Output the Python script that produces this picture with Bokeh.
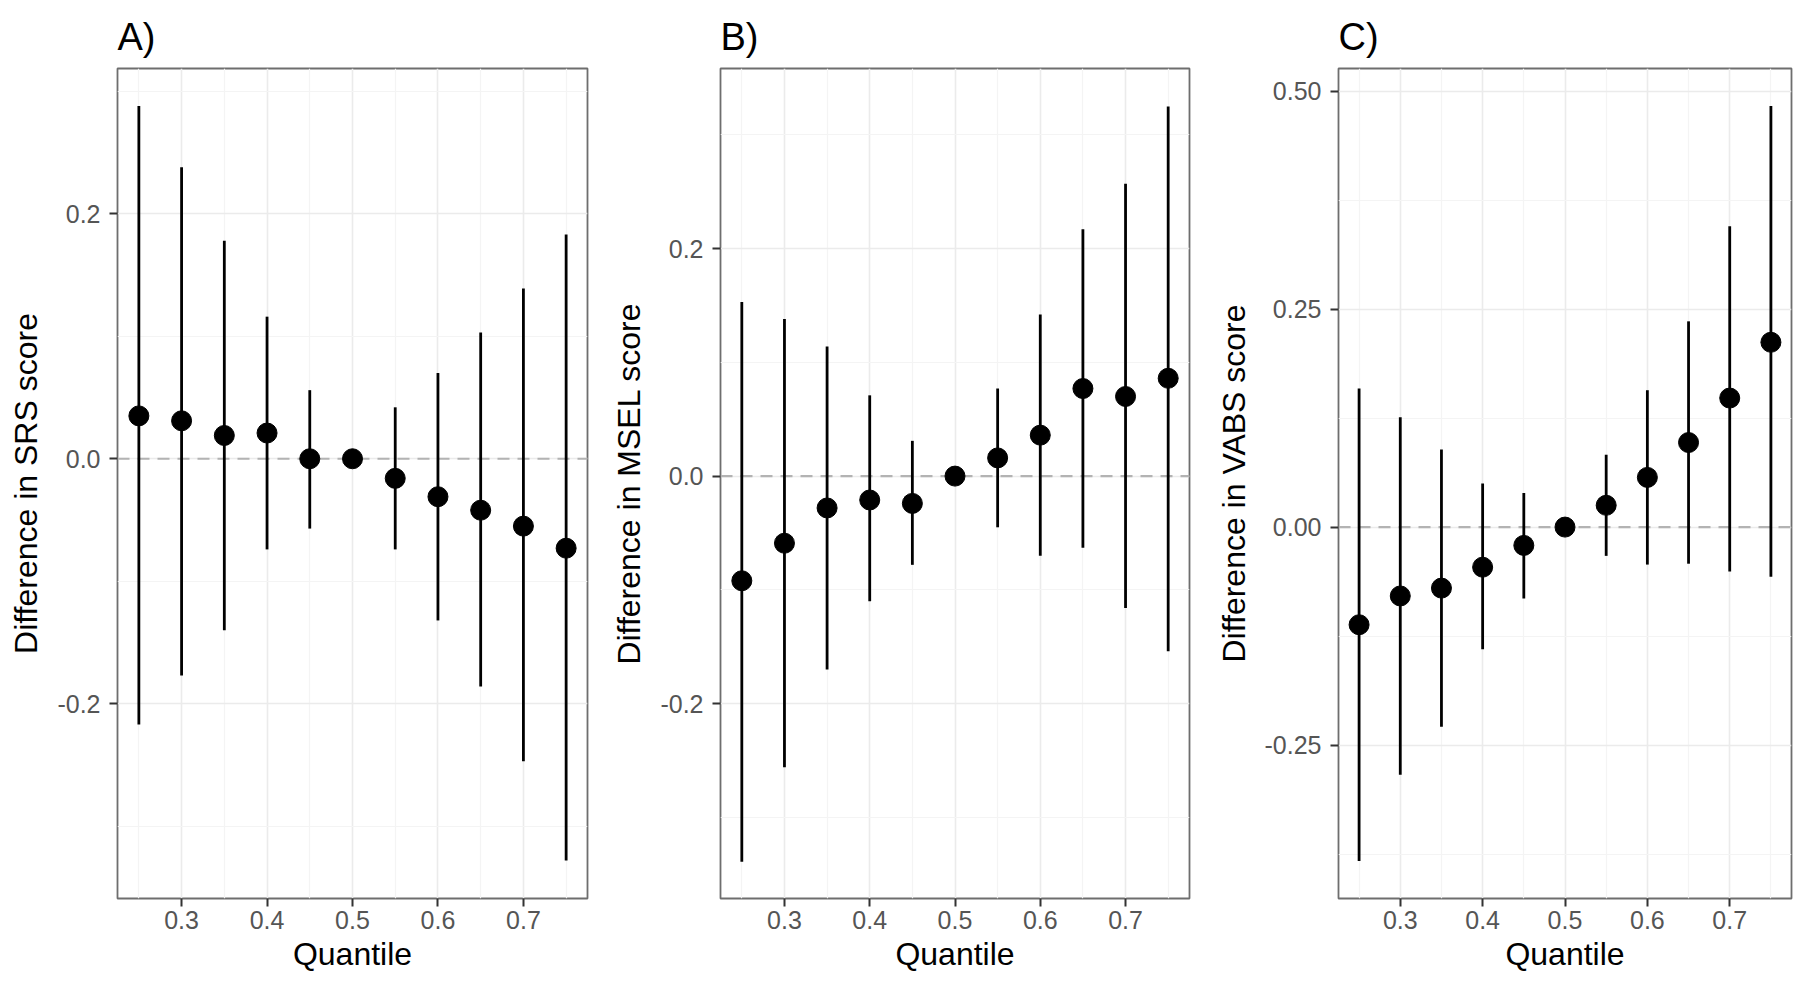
from bokeh.plotting import figure
from bokeh.layouts import row
from bokeh.models import Range1d, FixedTicker, Span
from bokeh.embed import file_html
from bokeh.resources import INLINE

# ---- data ----
quantile = [0.25, 0.30, 0.35, 0.40, 0.45, 0.50, 0.55, 0.60, 0.65, 0.70, 0.75]

srs_est = [0.035, 0.031, 0.019, 0.021, 0.000, 0.0, -0.016, -0.031, -0.042, -0.055, -0.073]
srs_lo = [-0.217, -0.177, -0.140, -0.074, -0.057, 0.0, -0.074, -0.132, -0.186, -0.247, -0.328]
srs_hi = [0.288, 0.238, 0.178, 0.116, 0.056, 0.0, 0.042, 0.070, 0.103, 0.139, 0.183]

msel_est = [-0.092, -0.059, -0.028, -0.021, -0.024, 0.0, 0.016, 0.036, 0.077, 0.070, 0.086]
msel_lo = [-0.339, -0.256, -0.170, -0.110, -0.078, 0.0, -0.045, -0.070, -0.063, -0.116, -0.154]
msel_hi = [0.153, 0.138, 0.114, 0.071, 0.031, 0.0, 0.077, 0.142, 0.217, 0.257, 0.325]

vabs_est = [-0.112, -0.079, -0.070, -0.046, -0.021, 0.0, 0.025, 0.057, 0.097, 0.148, 0.212]
vabs_lo = [-0.383, -0.284, -0.229, -0.140, -0.082, 0.0, -0.033, -0.043, -0.042, -0.051, -0.057]
vabs_hi = [0.159, 0.126, 0.089, 0.050, 0.039, 0.0, 0.083, 0.157, 0.236, 0.345, 0.483]

x_major = [0.3, 0.4, 0.5, 0.6, 0.7]
x_minor = [0.25, 0.35, 0.45, 0.55, 0.65, 0.75]
x_labels = ["0.3", "0.4", "0.5", "0.6", "0.7"]

panels = [
    dict(title="A)", ylabel="Difference in SRS score", est=srs_est, lo=srs_lo, hi=srs_hi,
         yr=(-0.359, 0.3186), ymaj=[-0.2, 0.0, 0.2], ymin=[-0.3, -0.1, 0.1, 0.3],
         ylab=["-0.2", "0.0", "0.2"],
         bl=117, fw=470, br=10),
    dict(title="B)", ylabel="Difference in MSEL score", est=msel_est, lo=msel_lo, hi=msel_hi,
         yr=(-0.3713, 0.3583), ymaj=[-0.2, 0.0, 0.2], ymin=[-0.3, -0.1, 0.1, 0.3],
         ylab=["-0.2", "0.0", "0.2"],
         bl=123, fw=469, br=10),
    dict(title="C)", ylabel="Difference in VABS score", est=vabs_est, lo=vabs_lo, hi=vabs_hi,
         yr=(-0.426, 0.526), ymaj=[-0.25, 0.0, 0.25, 0.5], ymin=[-0.375, -0.125, 0.125, 0.375],
         ylab=["-0.25", "0.00", "0.25", "0.50"],
         bl=139, fw=453, br=3),
]

FONT = "Liberation Sans"
figs = []
for d in panels:
    p = figure(output_backend="svg", toolbar_location=None,
               frame_width=d["fw"], frame_height=830,
               min_border_left=d["bl"], min_border_right=d["br"],
               min_border_top=68, min_border_bottom=70,
               x_range=Range1d(0.225, 0.775), y_range=Range1d(*d["yr"]),
               background_fill_color="white", border_fill_color="white")
    p.title.text = d["title"]
    p.title.text_font = FONT
    p.title.text_font_size = "38px"
    p.title.text_font_style = "normal"
    p.title.text_color = "black"
    p.title.align = "left"
    p.title.offset = 0
    p.title.standoff = 22

    p.outline_line_color = "#6e6e6e"
    p.outline_line_width = 1.8

    p.xaxis.ticker = FixedTicker(ticks=x_major, minor_ticks=x_minor)
    p.xaxis.major_label_overrides = {t: l for t, l in zip(x_major, x_labels)}
    p.yaxis.ticker = FixedTicker(ticks=d["ymaj"], minor_ticks=d["ymin"])
    p.yaxis.major_label_overrides = {t: l for t, l in zip(d["ymaj"], d["ylab"])}

    for ax in (p.xaxis, p.yaxis):
        ax.axis_line_color = None
        ax.minor_tick_line_color = None
        ax.major_tick_in = 0
        ax.major_tick_out = 8
        ax.major_tick_line_color = "#333333"
        ax.major_tick_line_width = 2
        ax.major_label_text_font = FONT
        ax.major_label_text_font_size = "25px"
        ax.major_label_text_color = "#555555"
        ax.axis_label_text_font = FONT
        ax.axis_label_text_font_size = "32px"
        ax.axis_label_text_font_style = "normal"
        ax.axis_label_text_color = "black"
    p.xaxis.major_label_standoff = 4
    p.yaxis.major_label_standoff = 9
    p.xaxis.axis_label = "Quantile"
    p.xaxis.axis_label_standoff = 4
    p.yaxis.axis_label = d["ylabel"]
    p.yaxis.axis_label_standoff = 10

    for g in (p.xgrid, p.ygrid):
        g.grid_line_color = "#ebebeb"
        g.grid_line_width = 1.6
        g.minor_grid_line_color = "#f4f4f4"
        g.minor_grid_line_width = 1.2

    p.add_layout(Span(location=0, dimension="width", line_color="#b3b3b3",
                      line_width=2.2, line_dash="12 8", level="underlay"))

    p.segment(x0=quantile, y0=d["lo"], x1=quantile, y1=d["hi"],
              line_color="black", line_width=2.8)
    p.scatter(x=quantile, y=d["est"], size=20, fill_color="black", line_color="black")
    figs.append(p)

layout = row(*figs, spacing=0)
open("out.html", "w").write(file_html(layout, INLINE))
